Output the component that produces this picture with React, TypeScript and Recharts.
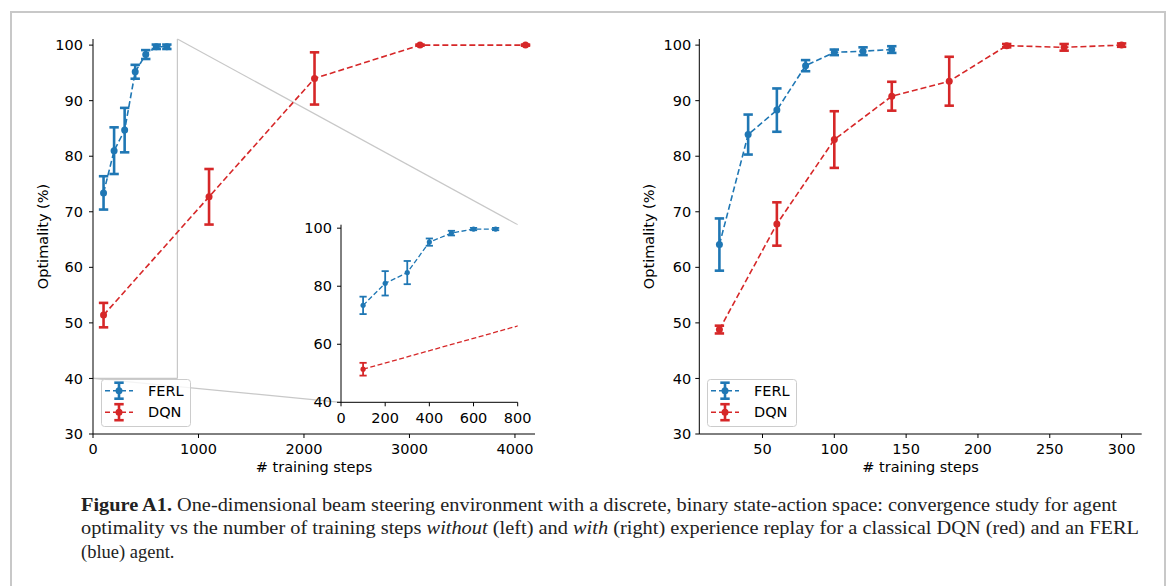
import React from "react";
import {
  CartesianGrid,
  ComposedChart,
  ErrorBar,
  Legend,
  Line,
  ReferenceLine,
  XAxis,
  YAxis,
} from "recharts";

const BLUE = "#1f77b4";
const RED = "#d62728";
const GREY = "#c8c8c8";
const FONT = "'DejaVu Sans', sans-serif";
const FS = 14.5;

// left panel: no experience replay
const ferlStepsNoReplay = [100, 200, 300, 400, 500, 600, 700];
const ferlOptNoReplay = [73.4, 81.0, 84.7, 95.2, 98.3, 99.7, 99.7];
const ferlErrNoReplay = [3.0, 4.2, 4.0, 1.25, 0.8, 0.4, 0.4];
const dqnStepsNoReplay = [100, 1100, 2100, 3100, 4100];
const dqnOptNoReplay = [51.4, 72.7, 94.0, 100.0, 100.0];
const dqnErrNoReplay = [2.2, 5.0, 4.7, 0.1, 0.1];

// right panel: with experience replay
const ferlStepsReplay = [20, 40, 60, 80, 100, 120, 140];
const ferlOptReplay = [64.1, 83.9, 88.3, 96.3, 98.7, 98.9, 99.2];
const ferlErrReplay = [4.7, 3.6, 3.9, 1.0, 0.5, 0.7, 0.6];
const dqnStepsReplay = [20, 60, 100, 140, 180, 220, 260, 300];
const dqnOptReplay = [48.8, 67.8, 83.0, 90.8, 93.5, 99.9, 99.6, 100.0];
const dqnErrReplay = [0.7, 3.9, 5.1, 2.6, 4.4, 0.3, 0.6, 0.3];

const seriesOrder = ["FERL", "DQN"];
const yTicks = [30, 40, 50, 60, 70, 80, 90, 100];
const leftXTicks = [0, 1000, 2000, 3000, 4000];
const rightXTicks = [50, 100, 150, 200, 250, 300];
const insetXTicks = [0, 200, 400, 600, 800];
const insetYTicks = [40, 60, 80, 100];

const toRows = (xs: number[], ys: number[], errs: number[]) =>
  xs.map((x, i) => ({ x, y: ys[i], err: errs[i] }));

const ferlNoReplay = toRows(ferlStepsNoReplay, ferlOptNoReplay, ferlErrNoReplay);
const dqnNoReplay = toRows(dqnStepsNoReplay, dqnOptNoReplay, dqnErrNoReplay);
const ferlReplay = toRows(ferlStepsReplay, ferlOptReplay, ferlErrReplay);
const dqnReplay = toRows(dqnStepsReplay, dqnOptReplay, dqnErrReplay);

// layout (page pixels)
const mainPlot = { left: 93, right: 535, top: 39, bottom: 434 };
const leftXDomain: [number, number] = [0, 4190];
const yDomain: [number, number] = [30, 101.1];
const rightXDomain: [number, number] = [6, 314];
const insetXDomain: [number, number] = [0, 800];
const insetYDomain: [number, number] = [40, 101.2];
const insetBox = { left: 341, right: 517.7, top: 224.7, bottom: 402.3 };

// page pixel -> data coords of the left main axes (for the zoom connectors)
function pxToLeftData(px: number, py: number) {
  const x =
    leftXDomain[0] +
    ((px - mainPlot.left) / (mainPlot.right - mainPlot.left)) *
      (leftXDomain[1] - leftXDomain[0]);
  const y =
    yDomain[0] +
    ((mainPlot.bottom - py) / (mainPlot.bottom - mainPlot.top)) *
      (yDomain[1] - yDomain[0]);
  return { x, y };
}

const insetTopRight = pxToLeftData(insetBox.right, insetBox.top);
const insetBottomLeft = pxToLeftData(insetBox.left, insetBox.bottom);

const tickStyle = { fill: "#000", fontSize: FS, fontFamily: FONT };

function LegendBox({ payload }: any) {
  const items = (payload ?? [])
    .filter((p: any) => p.type !== "none")
    .slice()
    .sort(
      (a: any, b: any) =>
        seriesOrder.indexOf(a.value) - seriesOrder.indexOf(b.value)
    );
  return (
    <svg width={90} height={48} style={{ display: "block" }}>
      <rect
        x={0.5}
        y={0.5}
        width={89}
        height={47}
        rx={3}
        fill="#fff"
        fillOpacity={0.8}
        stroke="#cccccc"
      />
      {items.map((it: any, i: number) => {
        const cy = 11.7 + i * 21.5;
        const c = it.color;
        return (
          <g key={it.value}>
            <line x1={4} x2={32} y1={cy} y2={cy} stroke={c} strokeWidth={1.5} strokeDasharray="5 3" />
            <line x1={18} x2={18} y1={cy - 8} y2={cy + 8} stroke={c} strokeWidth={2.6} />
            <line x1={13.3} x2={22.7} y1={cy - 8} y2={cy - 8} stroke={c} strokeWidth={2.6} />
            <line x1={13.3} x2={22.7} y1={cy + 8} y2={cy + 8} stroke={c} strokeWidth={2.6} />
            <circle cx={18} cy={cy} r={3.5} fill={c} />
            <text x={47} y={cy + 5} fontSize={FS} fontFamily={FONT} fill="#000">
              {it.value}
            </text>
          </g>
        );
      })}
    </svg>
  );
}

function Series({ data, name, color, small }: any) {
  return (
    <Line
      key={name}
      data={data}
      dataKey="y"
      name={name}
      type="linear"
      stroke={color}
      strokeWidth={small ? 1.3 : 1.6}
      strokeDasharray={small ? "5 2.5" : "6 3"}
      dot={{ r: small ? 2.6 : 3.5, fill: color, stroke: "none" }}
      activeDot={false}
      isAnimationActive={false}
    >
      <ErrorBar
        dataKey="err"
        direction="y"
        width={small ? 3.6 : 4.7}
        stroke={color}
        strokeWidth={small ? 1.8 : 2.6}
        isAnimationActive={false}
      />
    </Line>
  );
}

function MainPanel({
  left,
  width,
  marginLeft,
  marginRight,
  xDomain,
  xTicks,
  ferl,
  dqn,
  yTickMargin,
  legendLeft,
  children,
}: any) {
  return (
    <div style={{ position: "absolute", left, top: 0, width, height: 480 }}>
      <ComposedChart
        width={width}
        height={480}
        margin={{ top: 39, right: marginRight, bottom: 6, left: marginLeft }}
      >
        <XAxis
          type="number"
          dataKey="x"
          domain={xDomain}
          ticks={xTicks}
          allowDataOverflow
          height={40}
          stroke="#000"
          tickSize={4}
          tickMargin={6}
          tick={tickStyle}
          label={{
            value: "# training steps",
            position: "insideBottom",
            offset: 2,
            fill: "#000",
            fontSize: FS,
            fontFamily: FONT,
          }}
        />
        <XAxis
          xAxisId="top"
          orientation="top"
          type="number"
          domain={xDomain}
          allowDataOverflow
          height={0}
          stroke="#000"
          tick={false}
          tickLine={false}
        />
        <YAxis
          type="number"
          domain={yDomain}
          ticks={yTicks}
          allowDataOverflow
          width={50}
          stroke="#000"
          tickSize={4}
          tickMargin={yTickMargin}
          tick={tickStyle}
          label={{
            value: "Optimality (%)",
            angle: -90,
            position: "insideLeft",
            offset: 0,
            fill: "#000",
            fontSize: FS,
            fontFamily: FONT,
            style: { textAnchor: "middle" },
          }}
        />
        <YAxis
          yAxisId="right"
          orientation="right"
          type="number"
          domain={yDomain}
          allowDataOverflow
          width={0}
          stroke="#000"
          tick={false}
          tickLine={false}
        />
        {children}
        {Series({ data: ferl, name: "FERL", color: BLUE })}
        {Series({ data: dqn, name: "DQN", color: RED })}
        <Legend
          layout="vertical"
          verticalAlign="middle"
          align="center"
          content={LegendBox}
          wrapperStyle={{ left: legendLeft, top: 379, width: 90, height: 48 }}
        />
      </ComposedChart>
    </div>
  );
}

export default function App() {
  return (
    <div
      style={{
        position: "absolute",
        left: 0,
        top: 0,
        width: 1170,
        height: 586,
        background: "#fff",
        overflow: "hidden",
        fontFamily: FONT,
      }}
    >
      <div
        style={{
          position: "absolute",
          left: 10,
          top: 11,
          width: 1156,
          height: 620,
          boxSizing: "border-box",
          border: `2px solid ${GREY}`,
        }}
      />

      <MainPanel
        left={0}
        width={560}
        marginLeft={43}
        marginRight={25}
        xDomain={leftXDomain}
        xTicks={leftXTicks}
        ferl={ferlNoReplay}
        dqn={dqnNoReplay}
        yTickMargin={6}
        legendLeft={101}
      >
        <ReferenceLine
          segment={[
            { x: insetXDomain[1], y: insetYDomain[0] },
            { x: insetXDomain[1], y: yDomain[1] },
          ]}
          stroke={GREY}
          strokeWidth={1.2}
          ifOverflow="visible"
        />
        <ReferenceLine
          segment={[
            { x: insetXDomain[0], y: insetYDomain[0] },
            { x: insetXDomain[1], y: insetYDomain[0] },
          ]}
          stroke={GREY}
          strokeWidth={1.2}
          ifOverflow="visible"
        />
        <ReferenceLine
          segment={[{ x: insetXDomain[1], y: yDomain[1] }, insetTopRight]}
          stroke={GREY}
          strokeWidth={1.2}
          ifOverflow="visible"
        />
        <ReferenceLine
          segment={[{ x: insetXDomain[0], y: insetYDomain[0] }, insetBottomLeft]}
          stroke={GREY}
          strokeWidth={1.2}
          ifOverflow="visible"
        />
      </MainPanel>

      {/* zoomed inset of the first 800 steps */}
      <div style={{ position: "absolute", left: 291, top: 214, width: 250, height: 225 }}>
        <ComposedChart
          width={250}
          height={225}
          margin={{ top: 10.7, right: 23.3, bottom: 6.7, left: 10 }}
        >
          <CartesianGrid horizontal={false} vertical={false} fill="#fff" />
          <XAxis
            type="number"
            dataKey="x"
            domain={insetXDomain}
            ticks={insetXTicks}
            allowDataOverflow
            height={30}
            stroke="#000"
            tickSize={4}
            tickMargin={6}
            tick={tickStyle}
          />
          <XAxis
            xAxisId="top"
            orientation="top"
            type="number"
            domain={insetXDomain}
            allowDataOverflow
            height={0}
            stroke="#000"
            tick={false}
            tickLine={false}
          />
          <YAxis
            type="number"
            domain={insetYDomain}
            ticks={insetYTicks}
            allowDataOverflow
            width={40}
            stroke="#000"
            tickSize={4}
            tickMargin={5}
            tick={tickStyle}
          />
          <YAxis
            yAxisId="right"
            orientation="right"
            type="number"
            domain={insetYDomain}
            allowDataOverflow
            width={0}
            stroke="#000"
            tick={false}
            tickLine={false}
          />
          {Series({ data: ferlNoReplay, name: "FERL", color: BLUE, small: true })}
          {Series({ data: dqnNoReplay, name: "DQN", color: RED, small: true })}
        </ComposedChart>
      </div>

      <MainPanel
        left={600}
        width={570}
        marginLeft={49.3}
        marginRight={28.3}
        xDomain={rightXDomain}
        xTicks={rightXTicks}
        ferl={ferlReplay}
        dqn={dqnReplay}
        yTickMargin={4}
        legendLeft={107}
      />

      <svg
        width={1170}
        height={80}
        style={{ position: "absolute", left: 0, top: 490 }}
        fontFamily="'Liberation Serif', serif"
        fontSize={18.5}
        fill="#222"
      >
        <text x={81} y={20.5} textLength={1036} lengthAdjust="spacingAndGlyphs">
          <tspan fontWeight="bold">Figure A1.</tspan>
          {" One-dimensional beam steering environment with a discrete, binary state-action space: convergence study for agent"}
        </text>
        <text x={81} y={44} textLength={1058} lengthAdjust="spacingAndGlyphs">
          {"optimality vs the number of training steps "}
          <tspan fontStyle="italic">without</tspan>
          {" (left) and "}
          <tspan fontStyle="italic">with</tspan>
          {" (right) experience replay for a classical DQN (red) and an FERL"}
        </text>
        <text x={81} y={67.5}>
          (blue) agent.
        </text>
      </svg>
    </div>
  );
}
